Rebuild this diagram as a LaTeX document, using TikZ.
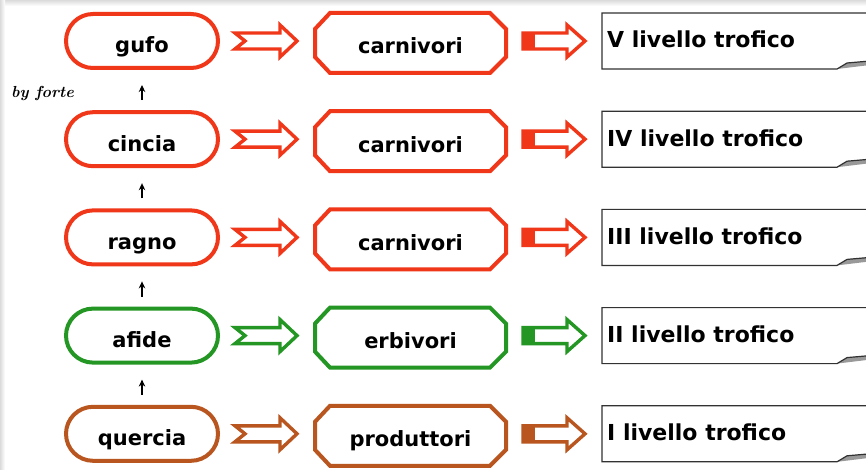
\documentclass[tikz,border=0pt]{standalone}
\usepackage{fontspec}
\setsansfont{DejaVu Sans}
\usetikzlibrary{calc,arrows.meta}

\definecolor{lvred}{RGB}{240,55,25}
\definecolor{lvgreen}{RGB}{35,150,35}
\definecolor{lvbrown}{RGB}{185,85,30}
\definecolor{framegray}{RGB}{50,50,50}

\newcommand{\lblfont}{\fontsize{21}{24}\selectfont\sffamily\bfseries}

\tikzset{
  organism/.style={draw=#1, line width=4pt, rounded corners=27pt,
    minimum width=152pt, minimum height=54pt, inner sep=0pt,
    text height=24pt, text depth=0pt, font=\lblfont},
  feeding/.style={minimum width=191pt, minimum height=60pt, inner sep=0pt,
    outer sep=0pt, text height=22pt, text depth=0pt, font=\lblfont},
  octagon/.style={draw=#1, line width=4pt, line join=miter},
  levelname/.style={anchor=base west, inner sep=0pt,
    font=\fontsize{22}{26}\selectfont\sffamily\bfseries},
  blockarrow/.style={draw=#1, fill=white, line width=3.4pt, line join=miter},
  eats/.style={-{Stealth[length=7pt,width=6.5pt]}, line width=1.4pt,
    shorten <=10pt, shorten >=15pt},
  levelframe/.style={draw=framegray, line width=1.2pt, line join=miter}
}

\begin{document}
\begin{tikzpicture}[x=1pt,y=-1pt]
\useasboundingbox (0,0) rectangle (866,470);
\fill[white] (0,0) rectangle (866,470);
% soft grey edges at top and left
\shade[top color=black!14, bottom color=white] (0,0) rectangle (866,6);
\shade[left color=black!14, right color=white] (0,0) rectangle (5,470);

\node[anchor=base west, inner sep=0pt,
  font=\fontsize{16}{18}\selectfont\rmfamily\bfseries\itshape] (sign) at (11,98) {by forte};

\foreach \i/\org/\grp/\lvl/\col in {
    0/gufo/carnivori/V/lvred,
    1/cincia/carnivori/IV/lvred,
    2/ragno/carnivori/III/lvred,
    3/afide/erbivori/II/lvgreen,
    4/quercia/produttori/I/lvbrown} {
  \pgfmathsetmacro\yc{41+98.2*\i}
  % organism, feeding group, trophic level
  \node[organism=\col] (org\i) at (142,\yc) {\org};
  \node[feeding] (grp\i) at (410.5,\yc+2) {\grp};
  \draw[octagon=\col]
    ($(grp\i.north west)+(15,0)$) -- ($(grp\i.north east)+(-16,0)$)
    -- ($(grp\i.north east)+(0,16)$) -- ($(grp\i.south east)+(0,-16)$)
    -- ($(grp\i.south east)+(-16,0)$) -- ($(grp\i.south west)+(15,0)$)
    -- ($(grp\i.south west)+(0,-16)$) -- ($(grp\i.north west)+(0,16)$) -- cycle;
  \node[levelname] (lvl\i) at (607,\yc+7) {\lvl\ livello trofico};
  % frame of the trophic level label with curled corner
  \fill[black!40] (837,\yc+28) -- (847,\yc+22) -- (870,\yc+20) -- (870,\yc+24) -- cycle;
  \draw[levelframe] (870,\yc-28) -- (602,\yc-28) -- (602,\yc+28) -- (837,\yc+28)
    -- (847,\yc+22) -- (870,\yc+20);
  % hollow arrow with notched tail: organism -> group
  \coordinate (a\i) at ($(org\i.east)+(15,0)$);
  \coordinate (b\i) at ($(grp\i.west)+(-18,-2)$);
  \draw[blockarrow=\col] (a\i) ++(0,-8) -- ($(b\i)+(-17,-8)$) -- ($(b\i)+(-17,-16)$)
    -- (b\i) -- ($(b\i)+(-17,16)$) -- ($(b\i)+(-17,8)$) -- ($(a\i)+(0,8)$)
    -- ($(a\i)+(10,0)$) -- cycle;
  % arrow with solid tail: group -> level
  \coordinate (c\i) at ($(grp\i.east)+(17,-2)$);
  \coordinate (d\i) at ($(c\i)+(62,0)$);
  \draw[blockarrow=\col] ($(c\i)+(0,-8)$) -- ($(d\i)+(-18,-8)$) -- ($(d\i)+(-18,-16)$)
    -- (d\i) -- ($(d\i)+(-18,16)$) -- ($(d\i)+(-18,8)$) -- ($(c\i)+(0,8)$) -- cycle;
  \fill[\col] ($(c\i)+(0,-8)$) rectangle ($(c\i)+(12,8)$);
}

% food chain arrows
\foreach \lo/\hi in {1/0,2/1,3/2,4/3}
  \draw[eats] (org\lo.north) -- (org\hi.south);
\end{tikzpicture}
\end{document}
